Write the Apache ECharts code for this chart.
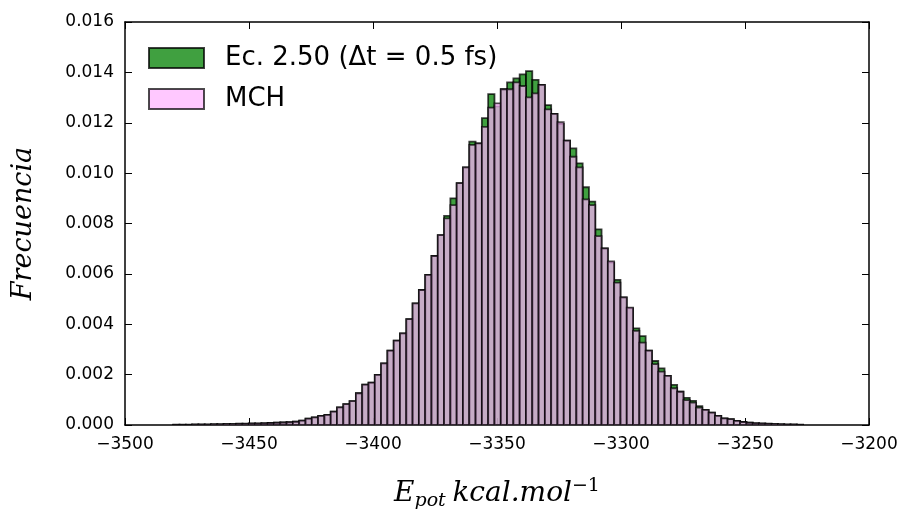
<!DOCTYPE html>
<html>
<head>
<meta charset="utf-8">
<script src="https://cdn.jsdelivr.net/npm/echarts@6/dist/echarts.min.js"></script>
<style>html,body{margin:0;padding:0;background:#fff;}#c{width:906px;height:509px;}</style>
</head>
<body>
<div id="c"></div>
<script>
// Histogram bins
var binStart = -3480.56;
var binWidth = 2.54;
// Ec. 2.50 (green) bin heights, left to right
var greenHeights = [
  0.00001, 0.00001, 0.00001, 0.00002, 0.00002, 0.00002, 0.00003, 0.00003, 0.00004, 0.00004,
  0.00005, 0.00005, 0.00006, 0.00006, 0.00007, 0.00008, 0.00009, 0.00010, 0.00011,
  0.00013, 0.00017, 0.00025, 0.00030, 0.00036, 0.00040, 0.00053, 0.00070, 0.00083, 0.00095,
  0.00126, 0.00160, 0.00168, 0.00199, 0.00245, 0.00295, 0.00335, 0.00364, 0.00420, 0.00483,
  0.00536, 0.00596, 0.00671, 0.00754, 0.00830, 0.00900, 0.00960, 0.01023, 0.01125, 0.01118,
  0.01218, 0.01314, 0.01265, 0.01333, 0.01360, 0.01376, 0.01392, 0.01405, 0.01370, 0.01350,
  0.01270, 0.01235, 0.01195, 0.01129, 0.01098, 0.01039, 0.00944, 0.00887, 0.00777, 0.00701,
  0.00645, 0.00576, 0.00507, 0.00463, 0.00384, 0.00353, 0.00295, 0.00254, 0.00225, 0.00195,
  0.00159, 0.00132, 0.00108, 0.00096, 0.00075, 0.00060, 0.00049, 0.00036, 0.00026, 0.00023,
  0.00016, 0.00012, 0.00009, 0.00007, 0.00006, 0.00005, 0.00004, 0.00003, 0.00002, 0.00002, 0.00001
];
// MCH (pink) bin heights
var pinkHeights = [
  0.00001, 0.00001, 0.00001, 0.00002, 0.00002, 0.00002, 0.00003, 0.00003, 0.00004, 0.00004,
  0.00005, 0.00005, 0.00006, 0.00006, 0.00007, 0.00008, 0.00009, 0.00010, 0.00011,
  0.00013, 0.00017, 0.00025, 0.00030, 0.00036, 0.00040, 0.00053, 0.00070, 0.00083, 0.00095,
  0.00126, 0.00160, 0.00168, 0.00199, 0.00245, 0.00295, 0.00335, 0.00364, 0.00420, 0.00483,
  0.00536, 0.00596, 0.00671, 0.00754, 0.00820, 0.00873, 0.00960, 0.01023, 0.01112, 0.01118,
  0.01184, 0.01260, 0.01277, 0.01333, 0.01333, 0.01360, 0.01346, 0.01301, 0.01317, 0.01350,
  0.01253, 0.01235, 0.01202, 0.01129, 0.01065, 0.01023, 0.00896, 0.00873, 0.00750, 0.00701,
  0.00650, 0.00565, 0.00507, 0.00466, 0.00374, 0.00327, 0.00295, 0.00242, 0.00212, 0.00195,
  0.00146, 0.00132, 0.00099, 0.00089, 0.00069, 0.00060, 0.00049, 0.00036, 0.00026, 0.00023,
  0.00016, 0.00012, 0.00009, 0.00007, 0.00006, 0.00005, 0.00004, 0.00003, 0.00002, 0.00002, 0.00001
];
var seriesNames = ['Ec. 2.50 (\u0394t = 0.5 fs)', 'MCH'];
var xTicks = { min: -3500, max: -3200, interval: 50 };
var yTicks = { min: 0, max: 0.016, interval: 0.002 };

function toBins(h) {
  return h.map(function (v, i) {
    var e0 = binStart + i * binWidth;
    return [e0, e0 + binWidth, v];
  });
}
function makeRender(fill, stroke) {
  return function (params, api) {
    var p0 = api.coord([api.value(0), api.value(2)]);
    var p1 = api.coord([api.value(1), 0]);
    return {
      type: 'rect',
      shape: { x: p0[0], y: p0[1], width: p1[0] - p0[0], height: p1[1] - p0[1] },
      style: { fill: fill, stroke: stroke, lineWidth: 1.8 }
    };
  };
}
var greenFill = 'rgba(0,128,0,0.75)', greenStroke = 'rgba(0,0,0,0.75)';
var pinkFill = 'rgba(255,177,255,0.7)', pinkStroke = 'rgba(0,0,0,0.7)';
var minus = function (v) { return String(v).replace('-', '\u2212'); };
var tickFont = { fontFamily: 'DejaVu Sans', fontSize: 17, color: '#000' };

var chart = echarts.init(document.getElementById('c'), null, { renderer: 'canvas' });
chart.setOption({
  animation: false,
  backgroundColor: '#fff',
  grid: { left: 125, right: 37, top: 22, bottom: 84, containLabel: false, outerBoundsMode: 'none' },
  xAxis: [{
    type: 'value', min: xTicks.min, max: xTicks.max, interval: xTicks.interval,
    axisLine: { show: true, onZero: false, lineStyle: { color: '#000', width: 1.5 } },
    axisTick: { show: true, inside: true, length: 7, lineStyle: { color: '#000', width: 1 } },
    splitLine: { show: false },
    axisLabel: Object.assign({ margin: 11, formatter: minus }, tickFont),
    name: '{i|E}{s|pot}  {i|kcal.mol}{p|\u22121}',
    nameLocation: 'middle', nameGap: 52,
    nameTextStyle: {
      rich: {
        i: { fontFamily: 'DejaVu Serif', fontStyle: 'italic', fontSize: 28, color: '#000' },
        s: { fontFamily: 'DejaVu Serif', fontStyle: 'italic', fontSize: 19, color: '#000', verticalAlign: 'bottom', padding: [15, 0, 0, 0] },
        p: { fontFamily: 'DejaVu Serif', fontSize: 19, color: '#000', verticalAlign: 'top', padding: [0, 0, 13, 0] }
      }
    }
  }, {
    type: 'value', position: 'top', min: xTicks.min, max: xTicks.max, interval: xTicks.interval,
    axisLine: { show: true, onZero: false, lineStyle: { color: '#000', width: 1.5 } },
    axisTick: { show: true, inside: true, length: 7, lineStyle: { color: '#000', width: 1 } },
    axisLabel: { show: false }, splitLine: { show: false }
  }],
  yAxis: [{
    type: 'value', min: yTicks.min, max: yTicks.max, interval: yTicks.interval,
    axisLine: { show: true, onZero: false, lineStyle: { color: '#000', width: 1.5 } },
    axisTick: { show: true, inside: true, length: 7, lineStyle: { color: '#000', width: 1 } },
    splitLine: { show: false },
    axisLabel: Object.assign({ margin: 11, formatter: function (v) { return v.toFixed(3); } }, tickFont),
    name: 'Frecuencia', nameLocation: 'middle', nameGap: 88, nameRotate: 90,
    nameTextStyle: { fontFamily: 'DejaVu Serif', fontStyle: 'italic', fontSize: 27, color: '#000' }
  }, {
    type: 'value', position: 'right', min: yTicks.min, max: yTicks.max, interval: yTicks.interval,
    axisLine: { show: true, onZero: false, lineStyle: { color: '#000', width: 1.5 } },
    axisTick: { show: true, inside: true, length: 7, lineStyle: { color: '#000', width: 1 } },
    axisLabel: { show: false }, splitLine: { show: false }
  }],
  legend: {
    orient: 'vertical', left: 148, top: 45, padding: 0, itemWidth: 55, itemHeight: 20, itemGap: 15,
    textStyle: { fontFamily: 'DejaVu Sans', fontSize: 26, lineHeight: 20, color: '#000', padding: [0, 0, 0, 16] },
    data: [
      { name: seriesNames[0], icon: 'rect', itemStyle: { color: greenFill, borderColor: greenStroke, borderWidth: 2 } },
      { name: seriesNames[1], icon: 'rect', itemStyle: { color: pinkFill, borderColor: pinkStroke, borderWidth: 2 } }
    ]
  },
  series: [{
    name: seriesNames[0], type: 'custom', renderItem: makeRender(greenFill, greenStroke),
    encode: { x: [0, 1], y: 2 }, data: toBins(greenHeights), itemStyle: { color: greenFill }, clip: true
  }, {
    name: seriesNames[1], type: 'custom', renderItem: makeRender(pinkFill, pinkStroke),
    encode: { x: [0, 1], y: 2 }, data: toBins(pinkHeights), itemStyle: { color: pinkFill }, clip: true
  }]
});
</script>
</body>
</html>
